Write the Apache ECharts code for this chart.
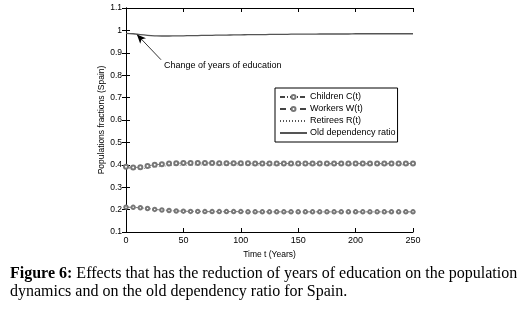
<!DOCTYPE html>
<html>
<head>
<meta charset="utf-8">
<script src="https://cdn.jsdelivr.net/npm/echarts@6/dist/echarts.min.js"></script>
<style>
  html, body { margin: 0; padding: 0; background: #fff; }
  #chart { width: 523px; height: 314px; }
</style>
</head>
<body>
<div id="chart"></div>
<script>
// time samples (years)
const years = [0, 6.25, 12.5, 18.75, 25, 31.25, 37.5, 43.75, 50, 56.25, 62.5, 68.75, 75, 81.25, 87.5, 93.75,
  100, 106.25, 112.5, 118.75, 125, 131.25, 137.5, 143.75, 150, 156.25, 162.5, 168.75, 175, 181.25, 187.5,
  193.75, 200, 206.25, 212.5, 218.75, 225, 231.25, 237.5, 243.75, 250]

const children = [0.211, 0.210, 0.208, 0.205, 0.201, 0.198, 0.196, 0.194, 0.193, 0.192, 0.192, 0.191, 0.191,
  0.191, 0.191, 0.191, 0.191, 0.190, 0.190, 0.190, 0.190, 0.190, 0.190, 0.190, 0.190, 0.190, 0.190, 0.190,
  0.190, 0.190, 0.190, 0.190, 0.190, 0.190, 0.190, 0.190, 0.190, 0.190, 0.190, 0.190, 0.190]

const workers = [0.391, 0.388, 0.389, 0.395, 0.400, 0.403, 0.406, 0.407, 0.408, 0.408, 0.408, 0.408, 0.408,
  0.407, 0.407, 0.407, 0.407, 0.407, 0.406, 0.406, 0.406, 0.406, 0.406, 0.406, 0.406, 0.406, 0.406, 0.406,
  0.406, 0.406, 0.406, 0.406, 0.406, 0.406, 0.406, 0.406, 0.406, 0.406, 0.406, 0.406, 0.406]

const retirees = [0.386, 0.383, 0.382, 0.386, 0.390, 0.393, 0.396, 0.397, 0.398, 0.398, 0.399, 0.399, 0.399,
  0.399, 0.399, 0.399, 0.399, 0.399, 0.399, 0.399, 0.399, 0.399, 0.399, 0.399, 0.399, 0.399, 0.400, 0.400,
  0.400, 0.400, 0.400, 0.400, 0.400, 0.400, 0.400, 0.400, 0.400, 0.400, 0.400, 0.400, 0.400]

const oldRatio = [0.987, 0.985, 0.981, 0.978, 0.976, 0.975, 0.975, 0.976, 0.976, 0.977, 0.977, 0.978, 0.978,
  0.979, 0.979, 0.980, 0.980, 0.981, 0.981, 0.981, 0.982, 0.982, 0.982, 0.983, 0.983, 0.983, 0.983, 0.984,
  0.984, 0.984, 0.984, 0.984, 0.985, 0.985, 0.985, 0.985, 0.985, 0.985, 0.985, 0.985, 0.985]

const xTicks = [0, 50, 100, 150, 200, 250]
const yTicks = [0.1, 1.1]

// annotation: arrow from text to the curve start
const arrowFrom = [30.5, 0.869]
const arrowTo = [9.5, 0.982]
const noteText = 'Change of years of education'

const zip = (xs, ys) => xs.map((x, i) => [x, ys[i]])

const font = 'Liberation Sans, Arial, sans-serif'
const serif = 'Liberation Serif, DejaVu Serif, serif'

const chart = echarts.init(document.getElementById('chart'), null, { renderer: 'canvas' })

const tickAxis = {
  axisLine: { show: true, lineStyle: { color: '#000', width: 1 } },
  axisTick: { show: true, inside: true, length: 4, lineStyle: { color: '#000' } },
  splitLine: { show: false }
}

const option = {
  animation: false,
  backgroundColor: '#fff',
  grid: { left: 126, right: 110, top: 8, bottom: 82 },
  xAxis: [
    {
      type: 'value', min: xTicks[0], max: xTicks[xTicks.length - 1], interval: 50, position: 'bottom',
      ...tickAxis,
      axisLabel: { color: '#000', fontSize: 9, fontFamily: font, margin: 4 },
      name: 'Time t (Years)', nameLocation: 'middle', nameGap: 18,
      nameTextStyle: { color: '#000', fontSize: 8.5, fontFamily: font }
    },
    {
      type: 'value', min: xTicks[0], max: xTicks[xTicks.length - 1], interval: 50, position: 'top',
      ...tickAxis, axisLabel: { show: false }
    }
  ],
  yAxis: [
    {
      type: 'value', min: yTicks[0], max: yTicks[1], interval: 0.1, position: 'left',
      ...tickAxis,
      axisLabel: { color: '#000', fontSize: 8.5, fontFamily: font, margin: 4, formatter: v => String(+v.toFixed(1)) },
      name: 'Populations fractions (Spain)', nameLocation: 'middle', nameGap: 20, nameMoveOverlap: false,
      nameTextStyle: { color: '#000', fontSize: 8.5, fontFamily: font }
    },
    {
      type: 'value', min: yTicks[0], max: yTicks[1], interval: 0.1, position: 'right',
      ...tickAxis, axisLabel: { show: false }
    }
  ],
  legend: {
    orient: 'vertical',
    left: 275, top: 88,
    backgroundColor: '#fff',
    borderColor: '#000', borderWidth: 1,
    padding: [4, 2, 4, 4],
    itemGap: 2,
    itemWidth: 27, itemHeight: 5,
    textStyle: { color: '#000', fontSize: 9, fontFamily: font, padding: [0, 0, 0, -2], lineHeight: 10 },
    data: [
      { name: 'Children C(t)' },
      { name: 'Workers W(t)' },
      { name: 'Retirees R(t)', itemStyle: { opacity: 0 } },
      { name: 'Old dependency ratio', itemStyle: { opacity: 0 } }
    ]
  },
  series: [
    {
      name: 'Children C(t)', type: 'line', data: zip(years, children),
      symbol: 'emptyCircle', symbolSize: 3.5, showAllSymbol: true,
      lineStyle: { color: '#444', width: 0.7, type: [5, 2, 1, 2] },
      itemStyle: { color: '#777', borderColor: '#555', borderWidth: 0.6 },
      z: 3
    },
    {
      name: 'Workers W(t)', type: 'line', data: zip(years, workers),
      symbol: 'emptyCircle', symbolSize: 4, showAllSymbol: true,
      lineStyle: { color: '#444', width: 0.7, type: [6, 4] },
      itemStyle: { color: '#777', borderColor: '#555', borderWidth: 0.7 },
      z: 3
    },
    {
      name: 'Retirees R(t)', type: 'line', data: zip(years, retirees),
      symbol: 'none', smooth: true,
      lineStyle: { color: '#555', width: 0.7, type: [1, 2] },
      itemStyle: { color: '#555' },
      z: 2
    },
    {
      name: 'Old dependency ratio', type: 'line', data: zip(years, oldRatio),
      symbol: 'none', smooth: true,
      lineStyle: { color: '#555', width: 1.3, type: 'solid' },
      itemStyle: { color: '#333' },
      markLine: {
        silent: true, animation: false,
        symbol: ['none', 'arrow'], symbolSize: [6, 9],
        lineStyle: { color: '#000', width: 0.8, type: 'solid' },
        label: { show: false },
        data: [[{ coord: arrowFrom }, { coord: arrowTo }]]
      }
    }
  ]
}

chart.setOption(option)

const notePos = chart.convertToPixel({ xAxisIndex: 0, yAxisIndex: 0 }, arrowFrom)

chart.setOption({
  graphic: [
    {
      type: 'text', left: notePos[0] + 3, top: notePos[1] + 1,
      style: { text: noteText, fill: '#000', font: '9px ' + font }
    },
    {
      type: 'text', left: 10, top: 266,
      style: {
        text: '{b|Figure 6:} Effects that has the reduction of years of education on the population',
        fill: '#000', font: '16px ' + serif,
        rich: { b: { fontWeight: 'bold', fontSize: 16, fontFamily: serif, fill: '#000' } }
      }
    },
    {
      type: 'text', left: 10, top: 284,
      style: { text: 'dynamics and on the old dependency ratio for Spain.', fill: '#000', font: '16px ' + serif }
    }
  ]
})

window.addEventListener('resize', () => chart.resize())
</script>
</body>
</html>
